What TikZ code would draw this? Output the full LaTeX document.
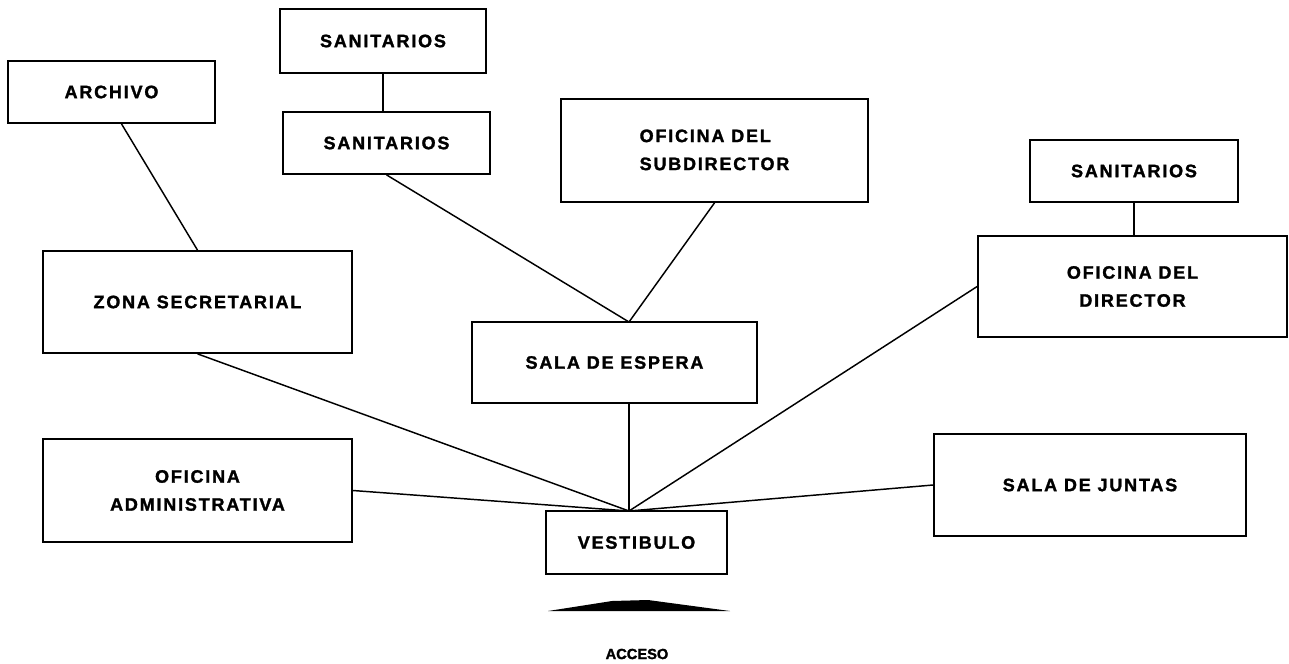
\documentclass[tikz,border=0pt]{standalone}
\usepackage{fontspec}
\setmainfont{Liberation Sans}[LetterSpace=10, BoldFeatures={FakeBold=1.6}]

\begin{document}
\begin{tikzpicture}[
    x=0.75pt, y=-0.75pt,
    every node/.style={font=\bfseries\fontsize{13.5}{21}\selectfont},
    room/.style={rectangle, draw, line width=1.3pt, inner sep=0pt,
        align=center},
    link/.style={line width=1.1pt},
]
\useasboundingbox (0,0) rectangle (1289,664);

% rooms
\node[room, minimum width=154.5pt, minimum height=48pt] (sanA) at (383,41) {SANITARIOS};
\node[room, minimum width=155.25pt, minimum height=46.5pt] (sanB) at (386.5,143) {SANITARIOS};
\node[room, minimum width=155.25pt, minimum height=46.5pt] (archivo) at (111.5,92) {ARCHIVO};
\node[room, minimum width=230.25pt, minimum height=77.25pt] (subdir) at (714.5,150.5)
    {\begin{tabular}{@{}l@{}}OFICINA DEL\\SUBDIRECTOR\end{tabular}};
\node[room, minimum width=156pt, minimum height=46.5pt] (sanC) at (1134,171) {SANITARIOS};
\node[room, minimum width=231.75pt, minimum height=75.75pt] (director) at (1132.5,286.5)
    {OFICINA DEL\\DIRECTOR};
\node[room, minimum width=231.75pt, minimum height=76.5pt] (zona) at (197.5,302)
    {ZONA SECRETARIAL};
\node[room, minimum width=213.75pt, minimum height=60.75pt] (espera) at (614.5,362.5)
    {SALA DE ESPERA};
\node[room, minimum width=231.75pt, minimum height=77.25pt] (admin) at (197.5,490.5)
    {OFICINA\\ADMINISTRATIVA};
\node[room, minimum width=135.75pt, minimum height=47.25pt] (vest) at (636.5,542.5)
    {VESTIBULO};
\node[room, minimum width=234pt, minimum height=76.5pt] (juntas) at (1090,485)
    {SALA DE JUNTAS};

% junction points
\coordinate (esptop) at (629,322);
\coordinate (espbot) at (629,403);
\coordinate (hub) at (629,511);

% connections
\draw[link] (sanA.south) -- (sanA.south |- sanB.north);
\draw[link] (sanC.south) -- (sanC.south |- director.north);
\draw[link] ([xshift=7.5pt]archivo.south) -- (zona.north);
\draw[link] (sanB.south) -- (esptop);
\draw[link] (subdir.south) -- (esptop);
\draw[link] (espbot) -- (hub);
\draw[link] (zona.south) -- (hub);
\draw[link] (admin.east) -- (hub);
\draw[link] (hub) -- (director.west);
\draw[link] (hub) -- (juntas.west);

% acceso
\fill (548,611) -- (612,601) -- (648,600) -- (730,611) -- cycle;
\node[font=\bfseries\fontsize{11}{12}\selectfont\addfontfeature{LetterSpace=0}]
    (acceso) at (637,654) {ACCESO};

\end{tikzpicture}
\end{document}
